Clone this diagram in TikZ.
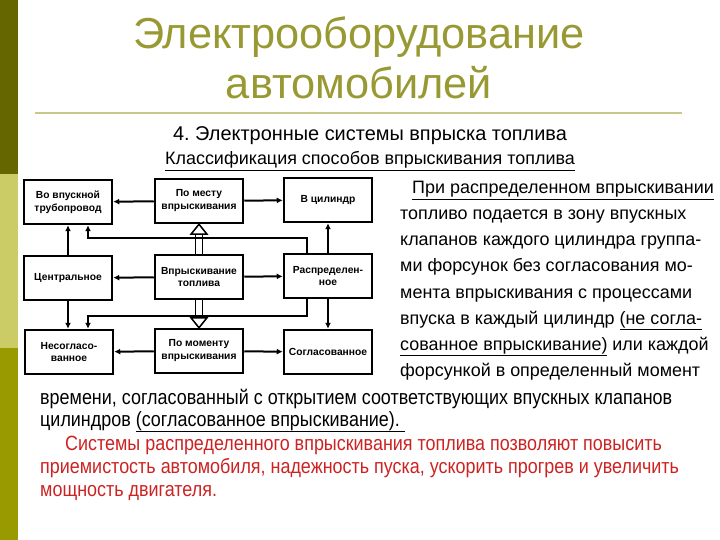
\documentclass[tikz,border=0pt]{standalone}
\usepackage{fontspec}
\setmainfont{Liberation Sans}
\newfontfamily\narrowfont[FakeStretch=0.87]{Liberation Sans}
\usepackage{xcolor}
\usetikzlibrary{
    arrows.meta,
    calc
}
\definecolor{bardark}{HTML}{666600}
\definecolor{barlight}{HTML}{CCCC66}
\definecolor{barolive}{HTML}{999900}
\definecolor{titlecol}{HTML}{999933}
\definecolor{rulecol}{HTML}{C8C88C}
\definecolor{redtext}{HTML}{CC2222}

\tikzset{
    block/.style={draw, line width=2.5bp, minimum width=88bp, minimum height=44bp,
        align=center, inner sep=1bp, font=\fontsize{10.3}{13}\selectfont\bfseries},
    arr/.style={line width=2bp, -{Latex[length=6bp, width=6bp]}},
    shaft/.style={line width=1.5bp},
    head/.style={line width=1.5bp, fill=white, line join=miter},
    line/.style={anchor=base west, inner sep=0pt,
        font=\fontsize{18}{20}\selectfont},
    bottom/.style={anchor=base west, inner sep=0pt,
        font=\narrowfont\fontsize{20.7}{22}\selectfont}
}

\begin{document}
\frenchspacing
\begin{tikzpicture}[x=1bp, y=-1bp]
                \useasboundingbox (0,0) rectangle (720,540);
                % left bar
                \fill[bardark] (0,0) rectangle (18,174);
                \fill[barlight] (0,174) rectangle (18,348);
                \fill[barolive] (0,348) rectangle (18,540);
                % title
                \node[text=titlecol, font=\fontsize{43.5}{50}\selectfont, align=center] (title) at (359,58)
                    {Электрооборудование\\автомобилей};
                \draw[rulecol, line width=2bp] (35,113) -- (682,113);
                \node[font=\fontsize{20}{22}\selectfont, anchor=base] (sub) at (370,141)
                    {4. Электронные системы впрыска топлива};
                \node[font=\fontsize{18}{20}\selectfont, anchor=base] (klass) at (370,165)
                    {\underline{Классификация способов впрыскивания топлива}};

                % blocks
                \node[block] (vpusk) at (68,202) {Во впускной\\трубопровод};
                \node[block] (mesto) at (199,201) {По месту\\впрыскивания};
                \node[block] (cil) at (328,200) {В цилиндр};
                \node[block] (centr) at (68,278) {Центральное};
                \node[block] (toplivo) at (199,277) {Впрыскивание\\топлива};
                \node[block] (raspr) at (328,276) {Распределен-\\ное};
                \node[block] (nesogl) at (69,352) {Несогласо-\\ванное};
                \node[block] (moment) at (199,351) {По моменту\\впрыскивания};
                \node[block] (sogl) at (328,352) {Согласованное};

                \draw[arr] (mesto) -- (vpusk);
                \draw[arr] (mesto) -- (cil);
                \draw[arr] (toplivo) -- (centr);
                \draw[arr] (toplivo) -- (raspr);
                \draw[arr] (moment) -- (nesogl);
                \draw[arr] (moment) -- (sogl);
                \draw[arr] (centr.north) -- (centr.north |- vpusk.south);
                \draw[arr] (centr.south) -- (centr.south |- nesogl.north);
                \draw[arr] (raspr.north) -- (raspr.north |- cil.south);
                \draw[arr] (raspr.south) -- (raspr.south |- sogl.north);
                \draw[arr] ([xshift=-21bp]raspr.north) -- ++(0,-15) -| ([xshift=20bp]vpusk.south);
                \draw[arr] ([xshift=-21bp]raspr.south) -- ++(0,17) -| ([xshift=19bp]nesogl.north);
                % hollow arrows
                \draw[shaft] ([xshift=-3.5bp]toplivo.north) -- ([xshift=-3.5bp, yshift=-10bp]mesto.south);
                \draw[shaft] ([xshift=3.5bp]toplivo.north) -- ([xshift=3.5bp, yshift=-10bp]mesto.south);
                \draw[head] (mesto.south) -- ++(-8,10) -- ++(16,0) -- cycle;
                \draw[shaft] ([xshift=-3.5bp]toplivo.south) -- ([xshift=-3.5bp, yshift=10bp]moment.north);
                \draw[shaft] ([xshift=3.5bp]toplivo.south) -- ([xshift=3.5bp, yshift=10bp]moment.north);
                \draw[head] (moment.north) -- ++(-8,-10) -- ++(16,0) -- cycle;

                % text on the right
                \node[line] (t1) at (412,194) {\underline{При распределенном впрыскивании}};
                \node[line] (t2) at (400,220) {топливо подается в зону впускных};
                \node[line] (t3) at (400,246) {клапанов каждого цилиндра группа-};
                \node[line] (t4) at (400,272) {ми форсунок без согласования мо-};
                \node[line] (t5) at (400,298) {мента впрыскивания с процессами};
                \node[line] (t6) at (400,324) {впуска в каждый цилиндр \underline{(не согла-}};
                \node[line] (t7) at (400,350) {\underline{сованное впрыскивание)} или каждой};
                \node[line] (t8) at (400,376) {форсункой в определенный момент};
                % text below
                \node[bottom] (b1) at (40,404) {времени, согласованный с открытием соответствующих впускных клапанов};
                \node[bottom] (b2) at (40,426) {цилиндров \underline{(согласованное впрыскивание).\ }};
                \node[bottom, text=redtext] (r1) at (65,450) {Системы распределенного впрыскивания топлива позволяют повысить};
                \node[bottom, text=redtext] (r2) at (40,473) {приемистость автомобиля, надежность пуска, ускорить прогрев и увеличить};
                \node[bottom, text=redtext] (r3) at (40,496) {мощность двигателя.};
\end{tikzpicture}
\end{document}
